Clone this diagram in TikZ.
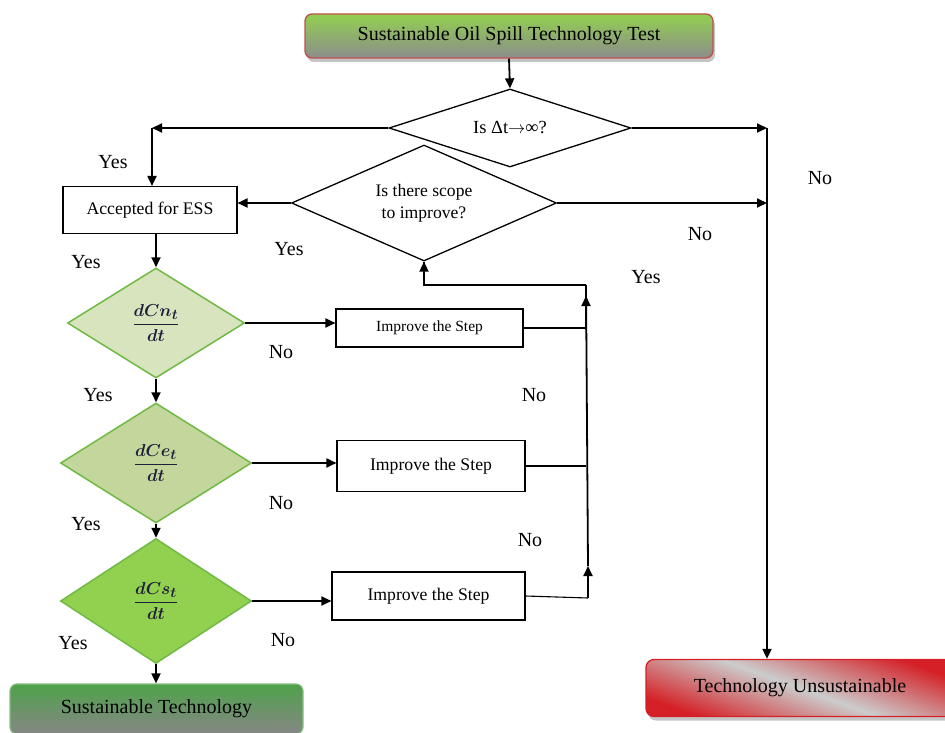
\documentclass[tikz,border=0pt]{standalone}
\usepackage{amsmath}
\usepackage{fontspec}
\setmainfont{Liberation Serif}
\usetikzlibrary{shapes.geometric,arrows.meta,shadows}
\definecolor{topgreen}{HTML}{92D050}
\definecolor{boxred}{HTML}{C0504D}
\definecolor{gA}{HTML}{D7E4BD}
\definecolor{gB}{HTML}{C3D69B}
\definecolor{gC}{HTML}{92D050}
\definecolor{gborder}{HTML}{70B944}
\definecolor{stgreen}{HTML}{4FA24A}
\definecolor{tured}{HTML}{D42026}
\definecolor{fracink}{HTML}{1F1F3A}
\begin{document}
\begin{tikzpicture}[x=1pt,y=-1pt,
  arr/.style={line width=1.8pt,-{Triangle[length=10pt,width=9pt]}},
  ln/.style={line width=1.8pt},
  thinln/.style={line width=1.1pt},
  lbl/.style={font=\fontsize{20}{24}\selectfont, inner sep=0pt},
  plainbox/.style={draw, line width=1.1pt, fill=white, inner sep=0pt},
  qdia/.style={diamond, draw, line width=1.3pt, fill=white, inner sep=0pt},
  gdia/.style={diamond, draw=gborder, line width=1.5pt, inner sep=0pt, text=fracink, font=\fontsize{19}{22}\selectfont},
  shad/.style={drop shadow={shadow xshift=2pt, shadow yshift=-4pt, opacity=0.45}},
]
\clip (0,0) rectangle (945,733);
\fill[white] (0,0) rectangle (945,733);

% top box
\node[draw=boxred, line width=1.3pt, rounded corners=7pt, shad,
      top color=topgreen, bottom color=gray!90, minimum width=408pt, minimum height=44pt,
      font=\fontsize{20}{24}\selectfont, inner sep=0pt] (top) at (509,36) {Sustainable Oil Spill Technology Test};

% decision diamonds
\node[qdia, aspect=3, minimum width=242pt, minimum height=78pt, font=\fontsize{18.5}{22}\selectfont] (d1) at (510,128) {Is Δt${\to}$∞?};
\node[qdia, aspect=2.3, minimum width=265pt, minimum height=116pt, font=\fontsize{17.6}{22}\selectfont, align=center] (d2) at (424,203) {Is there scope\\to improve?};

% accepted box
\node[plainbox, minimum width=174pt, minimum height=47pt, font=\fontsize{17.7}{21}\selectfont] (acc) at (150,210) {Accepted for ESS};

% green diamonds
\node[gdia, fill=gA, aspect=1.6, minimum width=177pt, minimum height=110pt] (dA) at (156,323) {$\displaystyle\boldsymbol{\frac{dCn_t}{dt}}$};
\node[gdia, fill=gB, aspect=1.6, minimum width=191pt, minimum height=120pt] (dB) at (156,463) {$\displaystyle\boldsymbol{\frac{dCe_t}{dt}}$};
\node[gdia, fill=gC, aspect=1.6, minimum width=191pt, minimum height=125pt] (dC) at (156,601) {$\displaystyle\boldsymbol{\frac{dCs_t}{dt}}$};

% improve boxes
\node[plainbox, minimum width=187pt, minimum height=38pt, font=\fontsize{15.5}{18}\selectfont] (s1) at (429.5,328) {Improve the Step};
\node[plainbox, minimum width=188pt, minimum height=51pt, font=\fontsize{17.7}{21}\selectfont] (s2) at (431,466) {Improve the Step};
\node[plainbox, minimum width=193pt, minimum height=48pt, font=\fontsize{17.7}{21}\selectfont] (s3) at (428.5,596) {Improve the Step};

% end boxes
\node[draw=stgreen!70, line width=1.2pt, rounded corners=7pt,
      top color=stgreen, bottom color=gray!95, minimum width=293pt, minimum height=50pt,
      font=\fontsize{20}{24}\selectfont, inner sep=0pt] (st) at (156.5,709) {Sustainable Technology};
\node[draw=tured, line width=1.3pt, rounded corners=8pt, shad,
      top color=tured, bottom color=tured, middle color=gray!40, shading angle=160,
      minimum width=308pt, minimum height=57pt,
      font=\fontsize{20}{24}\selectfont, inner sep=0pt] (tu) at (800,688) {Technology Unsustainable};

% coordinates
\coordinate (cL) at (152,128);
\coordinate (cR) at (767,128);
\coordinate (vB) at (588,598);
\coordinate (vT) at (586,285);

% connectors
\draw[arr] (top.south) -- (d1.north);
\draw[arr] (d1.west) -- (cL);
\draw[arr] (cL) -- (cL |- acc.north);
\draw[arr] (d1.east) -- (cR);
\draw[arr] (cR) -- (cR |- tu.north);
\draw[arr] (d2.west) -- (acc.east |- d2.west);
\draw[arr] (d2.east) -- (cR |- d2.east);
\draw[arr] (acc.south -| dA.north) -- (dA.north);
\draw[arr] (dA.south) -- (dB.north);
\draw[arr] (dB.south) -- (dC.north);
\draw[arr] (dC.south) -- (st.north -| dC.south);
\draw[arr] (dA.east) -- (s1.west |- dA.east);
\draw[arr] (dB.east) -- (s2.west |- dB.east);
\draw[arr] (dC.east) -- (s3.west |- dC.east);
\draw[thinln] (s1.east) -- (vT |- s1.east);
\draw[thinln] (s2.east) -- (vT |- s2.east);
\draw[thinln] (s3.east) -- (vB);
\draw[arr] (vB) -- (588,566);
\draw[ln] (588,566) -- (vT);
\draw[arr] (586,330) -- (586,296);
\draw[ln] (vT) -| (d2.south);
\draw[arr] (d2.south |- vT) -- (d2.south);

% labels
\node[lbl] (y1) at (113,162) {Yes};
\node[lbl] (n1) at (820,178) {No};
\node[lbl] (y2) at (289,249) {Yes};
\node[lbl] (n2) at (700,234) {No};
\node[lbl] (y3) at (646,277) {Yes};
\node[lbl] (y4) at (86,262) {Yes};
\node[lbl] (n3) at (281,352) {No};
\node[lbl] (y5) at (98,395) {Yes};
\node[lbl] (n4) at (534,395) {No};
\node[lbl] (y6) at (86,524) {Yes};
\node[lbl] (n5) at (281,503) {No};
\node[lbl] (n6) at (530,540) {No};
\node[lbl] (y7) at (73,643) {Yes};
\node[lbl] (n7) at (283,640) {No};
\end{tikzpicture}
\end{document}
